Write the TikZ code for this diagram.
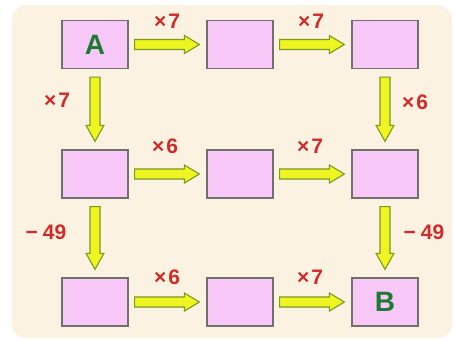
\documentclass[tikz,border=0pt]{standalone}
\usepackage{fontspec}
\setmainfont{Liberation Sans}
\usetikzlibrary{calc}
\definecolor{bgc}{HTML}{FBF2E2}
\definecolor{boxfill}{HTML}{F8C8F8}
\definecolor{boxline}{HTML}{707070}
\definecolor{arrfill}{HTML}{EEF520}
\definecolor{arrline}{HTML}{7A9A20}
\definecolor{labred}{HTML}{D22A2A}
\definecolor{letgreen}{HTML}{1E7A32}
\tikzset{
  numbox/.style={draw=boxline, line width=1.3pt, fill=boxfill, minimum width=66pt, minimum height=48pt, inner sep=0pt, font=\fontsize{28}{28}\selectfont\bfseries, text=letgreen},
  oplabel/.style={font=\fontsize{21}{21}\selectfont\bfseries, text=labred, inner sep=0pt},
  fatarrow/.style={draw=arrline, fill=arrfill, line width=1.1pt, line join=miter}
}
\newcommand\fatH[2]{\draw[fatarrow] let \p1=(#1), \p2=(#2) in
  (\x1,\y1+5) -- (\x2-15,\y1+5) -- (\x2-15,\y1+9) -- (\x2,\y1) -- (\x2-15,\y1-9) -- (\x2-15,\y1-5) -- (\x1,\y1-5) -- cycle;}
\newcommand\fatV[2]{\draw[fatarrow] let \p1=(#1), \p2=(#2) in
  (\x1-5,\y1) -- (\x1-5,\y2+16) -- (\x1-9,\y2+16) -- (\x1,\y2) -- (\x1+9,\y2+16) -- (\x1+5,\y2+16) -- (\x1+5,\y1) -- cycle;}
\begin{document}
\begin{tikzpicture}[x=1pt,y=-1pt]
\useasboundingbox (0,0) rectangle (455,341);
\fill[bgc, rounded corners=14pt] (12,5) rectangle (452,338);
% boxes
\node[numbox] (a)   at (95,44.5) {A};
\node[numbox] (b12) at (240,44.5) {};
\node[numbox] (b13) at (385,44.5) {};
\node[numbox] (b21) at (95,174) {};
\node[numbox] (b22) at (240,174) {};
\node[numbox] (b23) at (385,174) {};
\node[numbox] (b31) at (95,302) {};
\node[numbox] (b32) at (240,302) {};
\node[numbox] (b)   at (385,302) {B};
% horizontal arrows
\fatH{$(a.east)+(6,0)$}{$(b12.west)+(-7,0)$}
\fatH{$(b12.east)+(6,0)$}{$(b13.west)+(-7,0)$}
\fatH{$(b21.east)+(6,0)$}{$(b22.west)+(-7,0)$}
\fatH{$(b22.east)+(6,0)$}{$(b23.west)+(-7,0)$}
\fatH{$(b31.east)+(6,0)$}{$(b32.west)+(-7,0)$}
\fatH{$(b32.east)+(6,0)$}{$(b.west)+(-7,0)$}
% vertical arrows
\fatV{$(a.south)+(0,8)$}{$(b21.north)+(0,-8)$}
\fatV{$(b13.south)+(0,8)$}{$(b23.north)+(0,-8)$}
\fatV{$(b21.south)+(0,8)$}{$(b31.north)+(0,-8)$}
\fatV{$(b23.south)+(0,8)$}{$(b.north)+(0,-8)$}
% labels
\node[oplabel] (l1) at (167,21) {×\hspace{2pt}7};
\node[oplabel] (l2) at (311,21) {×\hspace{2pt}7};
\node[oplabel] (l3) at (57,100) {×\hspace{2pt}7};
\node[oplabel] (l4) at (415,102) {×\hspace{2pt}6};
\node[oplabel] (l5) at (165,146) {×\hspace{2pt}6};
\node[oplabel] (l6) at (310,146) {×\hspace{2pt}7};
\node[oplabel] (l7) at (46,232) {−\hspace{5pt}49};
\node[oplabel] (l8) at (424,232) {−\hspace{5pt}49};
\node[oplabel] (l9) at (167,277) {×\hspace{2pt}6};
\node[oplabel] (l10) at (310,277) {×\hspace{2pt}7};
\end{tikzpicture}
\end{document}
